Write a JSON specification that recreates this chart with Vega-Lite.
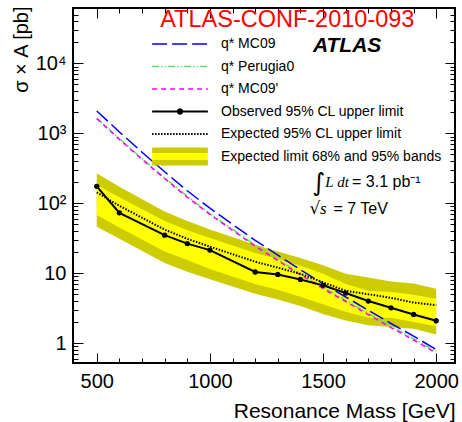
{
  "$schema": "https://vega.github.io/schema/vega-lite/v6.json",
  "width": 382,
  "height": 355,
  "autosize": {"type": "none"},
  "padding": {"left": 73, "top": 8, "right": 7, "bottom": 59},
  "background": "white",
  "config": {
    "font": "Liberation Sans",
    "view": {"stroke": "#000000", "strokeWidth": 2},
    "axis": {"domain": false, "grid": false, "ticks": true, "tickColor": "#000000", "tickWidth": 1, "labelColor": "#000000", "titleColor": "#000000", "labelFont": "Liberation Sans", "titleFont": "Liberation Sans", "titleFontWeight": "normal"}
  },
  "datasets": {
    "limits": [
      {"mass": 500, "obs": 175, "exp": 143, "lo68": 68, "hi68": 182, "lo95": 46, "hi95": 268},
      {"mass": 600, "obs": 73, "exp": 92, "lo68": 45, "hi68": 122, "lo95": 31, "hi95": 172},
      {"mass": 800, "obs": 35, "exp": 42, "lo68": 20.5, "hi68": 56, "lo95": 14, "hi95": 76},
      {"mass": 900, "obs": 26.5, "exp": 31, "lo68": 15.5, "hi68": 41, "lo95": 10.5, "hi95": 56},
      {"mass": 1000, "obs": 21.4, "exp": 24, "lo68": 11.5, "hi68": 32, "lo95": 8.2, "hi95": 42},
      {"mass": 1200, "obs": 10.4, "exp": 14.6, "lo68": 7.0, "hi68": 19.5, "lo95": 5.1, "hi95": 25.5},
      {"mass": 1300, "obs": 9.6, "exp": 12, "lo68": 5.8, "hi68": 16, "lo95": 4.2, "hi95": 20.5},
      {"mass": 1400, "obs": 8.15, "exp": 9.8, "lo68": 4.6, "hi68": 12.8, "lo95": 3.4, "hi95": 16.5},
      {"mass": 1500, "obs": 6.7, "exp": 7.4, "lo68": 3.6, "hi68": 9.8, "lo95": 2.6, "hi95": 13},
      {"mass": 1600, "obs": 5.2, "exp": 5.6, "lo68": 2.8, "hi68": 7.0, "lo95": 2.1, "hi95": 9.8},
      {"mass": 1700, "obs": 4.0, "exp": 5.0, "lo68": 2.3, "hi68": 5.6, "lo95": 1.8, "hi95": 8.7},
      {"mass": 1800, "obs": 3.2, "exp": 4.45, "lo68": 2.3, "hi68": 5.4, "lo95": 1.7, "hi95": 7.6},
      {"mass": 1900, "obs": 2.57, "exp": 3.8, "lo68": 2.0, "hi68": 4.9, "lo95": 1.6, "hi95": 7.1},
      {"mass": 2000, "obs": 2.09, "exp": 3.5, "lo68": 1.75, "hi68": 4.3, "lo95": 1.33, "hi95": 6.0}
    ],
    "signal": [
      {"mass": 500, "series": "q* MC09", "xs": 2090},
      {"mass": 600, "series": "q* MC09", "xs": 1047},
      {"mass": 700, "series": "q* MC09", "xs": 537},
      {"mass": 800, "series": "q* MC09", "xs": 282},
      {"mass": 900, "series": "q* MC09", "xs": 151},
      {"mass": 1000, "series": "q* MC09", "xs": 85},
      {"mass": 1100, "series": "q* MC09", "xs": 50},
      {"mass": 1200, "series": "q* MC09", "xs": 29.5},
      {"mass": 1300, "series": "q* MC09", "xs": 18.2},
      {"mass": 1400, "series": "q* MC09", "xs": 11.2},
      {"mass": 1500, "series": "q* MC09", "xs": 7.08},
      {"mass": 1600, "series": "q* MC09", "xs": 4.57},
      {"mass": 1700, "series": "q* MC09", "xs": 2.95},
      {"mass": 1800, "series": "q* MC09", "xs": 1.91},
      {"mass": 1900, "series": "q* MC09", "xs": 1.26},
      {"mass": 2000, "series": "q* MC09", "xs": 0.81},
      {"mass": 500, "series": "q* Perugia0", "xs": 1660},
      {"mass": 600, "series": "q* Perugia0", "xs": 841},
      {"mass": 700, "series": "q* Perugia0", "xs": 436},
      {"mass": 800, "series": "q* Perugia0", "xs": 231},
      {"mass": 900, "series": "q* Perugia0", "xs": 125.6},
      {"mass": 1000, "series": "q* Perugia0", "xs": 71.3},
      {"mass": 1100, "series": "q* Perugia0", "xs": 42.5},
      {"mass": 1200, "series": "q* Perugia0", "xs": 25.3},
      {"mass": 1300, "series": "q* Perugia0", "xs": 15.7},
      {"mass": 1400, "series": "q* Perugia0", "xs": 9.82},
      {"mass": 1500, "series": "q* Perugia0", "xs": 6.26},
      {"mass": 1600, "series": "q* Perugia0", "xs": 4.09},
      {"mass": 1700, "series": "q* Perugia0", "xs": 2.67},
      {"mass": 1800, "series": "q* Perugia0", "xs": 1.74},
      {"mass": 1900, "series": "q* Perugia0", "xs": 1.16},
      {"mass": 2000, "series": "q* Perugia0", "xs": 0.76},
      {"mass": 500, "series": "q* MC09'", "xs": 1622},
      {"mass": 600, "series": "q* MC09'", "xs": 820},
      {"mass": 700, "series": "q* MC09'", "xs": 425},
      {"mass": 800, "series": "q* MC09'", "xs": 225},
      {"mass": 900, "series": "q* MC09'", "xs": 122},
      {"mass": 1000, "series": "q* MC09'", "xs": 69.2},
      {"mass": 1100, "series": "q* MC09'", "xs": 41.1},
      {"mass": 1200, "series": "q* MC09'", "xs": 24.4},
      {"mass": 1300, "series": "q* MC09'", "xs": 15.2},
      {"mass": 1400, "series": "q* MC09'", "xs": 9.46},
      {"mass": 1500, "series": "q* MC09'", "xs": 6.03},
      {"mass": 1600, "series": "q* MC09'", "xs": 3.93},
      {"mass": 1700, "series": "q* MC09'", "xs": 2.56},
      {"mass": 1800, "series": "q* MC09'", "xs": 1.67},
      {"mass": 1900, "series": "q* MC09'", "xs": 1.11},
      {"mass": 2000, "series": "q* MC09'", "xs": 0.724}
    ]
  },
  "resolve": {"axis": {"x": "independent", "y": "independent"}},
  "layer": [
    {
      "data": {"name": "limits"},
      "mark": {"type": "area", "color": "#cccc00"},
      "encoding": {
        "x": {"field": "mass", "type": "quantitative", "scale": {"type": "linear", "domain": [395, 2083], "nice": false, "zero": false},
          "axis": {"orient": "bottom", "values": [500, 1000, 1500, 2000], "tickSize": -10, "labelFontSize": 20, "labelPadding": 18, "labelBaseline": "top", "labelAlign": "center", "labelFlush": false, "labelOverlap": false, "format": "d", "title": "Resonance Mass [GeV]", "titleFontSize": 21, "titleAlign": "right", "titleBaseline": "alphabetic", "titleAngle": 0, "titleX": 382, "titleY": 54}},
        "y": {"field": "hi95", "type": "quantitative", "scale": {"type": "log", "domain": [0.52, 62000], "nice": false},
          "axis": {"orient": "left", "values": [1, 10, 100, 1000, 10000], "tickSize": -10, "labelFontSize": 20, "labelPadding": 17, "labelAlign": "right", "labelBaseline": "middle", "labelFlush": false, "labelOverlap": false,
            "labelExpr": "datum.value >= 10000 ? '10⁴' : datum.value >= 1000 ? '10³' : datum.value >= 100 ? '10²' : datum.value >= 10 ? '10' : '1'",
            "encode": {"labels": {"update": {"dx": {"signal": "datum.value >= 100 ? 5 : 0"}, "dy": {"signal": "datum.value >= 100 ? 4 : 0"}}}},
            "title": "σ × A [pb]", "titleFontSize": 20, "titleAngle": -90, "titleAlign": "right", "titleBaseline": "alphabetic", "titleX": -46, "titleY": -2}},
        "y2": {"field": "lo95"}
      }
    },
    {
      "data": {"name": "limits"},
      "mark": {"type": "point", "opacity": 0},
      "encoding": {
        "x": {"field": "mass", "type": "quantitative", "scale": {"type": "linear", "domain": [395, 2083], "nice": false, "zero": false},
          "axis": {"orient": "bottom", "values": [600, 700, 800, 900, 1100, 1200, 1300, 1400, 1600, 1700, 1800, 1900], "tickSize": -5, "labels": false, "title": null}},
        "y": {"field": "obs", "type": "quantitative", "scale": {"type": "log", "domain": [0.52, 62000], "nice": false},
          "axis": {"orient": "left", "values": [0.6, 0.7, 0.8, 0.9, 2, 3, 4, 5, 6, 7, 8, 9, 20, 30, 40, 50, 60, 70, 80, 90, 200, 300, 400, 500, 600, 700, 800, 900, 2000, 3000, 4000, 5000, 6000, 7000, 8000, 9000, 20000, 30000, 40000, 50000], "tickSize": -5, "labels": false, "title": null}}
      }
    },
    {
      "data": {"name": "limits"},
      "mark": {"type": "point", "opacity": 0},
      "encoding": {
        "x": {"field": "mass", "type": "quantitative", "scale": {"type": "linear", "domain": [395, 2083], "nice": false, "zero": false},
          "axis": {"orient": "top", "values": [500, 1000, 1500, 2000], "tickSize": -10, "labels": false, "title": null}},
        "y": {"field": "obs", "type": "quantitative", "scale": {"type": "log", "domain": [0.52, 62000], "nice": false},
          "axis": {"orient": "right", "values": [1, 10, 100, 1000, 10000], "tickSize": -10, "labels": false, "title": null}}
      }
    },
    {
      "data": {"name": "limits"},
      "mark": {"type": "point", "opacity": 0},
      "encoding": {
        "x": {"field": "mass", "type": "quantitative", "scale": {"type": "linear", "domain": [395, 2083], "nice": false, "zero": false},
          "axis": {"orient": "top", "values": [600, 700, 800, 900, 1100, 1200, 1300, 1400, 1600, 1700, 1800, 1900], "tickSize": -5, "labels": false, "title": null}},
        "y": {"field": "obs", "type": "quantitative", "scale": {"type": "log", "domain": [0.52, 62000], "nice": false},
          "axis": {"orient": "right", "values": [0.6, 0.7, 0.8, 0.9, 2, 3, 4, 5, 6, 7, 8, 9, 20, 30, 40, 50, 60, 70, 80, 90, 200, 300, 400, 500, 600, 700, 800, 900, 2000, 3000, 4000, 5000, 6000, 7000, 8000, 9000, 20000, 30000, 40000, 50000], "tickSize": -5, "labels": false, "title": null}}
      }
    },
    {
      "data": {"name": "limits"},
      "mark": {"type": "area", "color": "#ffff00"},
      "encoding": {
        "x": {"field": "mass", "type": "quantitative", "scale": {"type": "linear", "domain": [395, 2083], "nice": false, "zero": false}, "axis": null},
        "y": {"field": "hi68", "type": "quantitative", "scale": {"type": "log", "domain": [0.52, 62000], "nice": false}, "axis": null},
        "y2": {"field": "lo68"}
      }
    },
    {
      "data": {"name": "signal"},
      "mark": {"type": "line", "strokeWidth": 1.5},
      "encoding": {
        "x": {"field": "mass", "type": "quantitative", "scale": {"type": "linear", "domain": [395, 2083], "nice": false, "zero": false}, "axis": null},
        "y": {"field": "xs", "type": "quantitative", "scale": {"type": "log", "domain": [0.52, 62000], "nice": false}, "axis": null},
        "strokeDash": {"field": "series", "type": "nominal", "scale": {"domain": ["q* MC09", "q* Perugia0", "q* MC09'"], "range": [[15, 5], [7, 2, 1.5, 2, 1.5, 2], [5, 4]]}, "legend": null},
        "color": {"field": "series", "type": "nominal",
          "scale": {"domain": ["q* MC09", "q* Perugia0", "q* MC09'", "Observed 95% CL upper limit", "Expected 95% CL upper limit", "Expected limit 68% and 95% bands"], "range": ["#0000ff", "#66dd66", "#ff00ff", "#000000", "#000000", "#cccc00"]},
          "legend": {
            "orient": "none", "legendX": 72, "legendY": 29, "title": null, "direction": "vertical", "padding": 0, "offset": 0, "gridAlign": "all",
            "labelFont": "Liberation Sans", "labelFontSize": 14, "labelColor": "#000000", "labelLimit": 400,
            "symbolSize": 324, "symbolOffset": 28, "labelOffset": 34, "rowPadding": 4.5, "symbolType": "M-3.1,0H3.1",
            "encode": {"symbols": {"update": {
              "shape": {"signal": "datum.value === 'Observed 95% CL upper limit' ? 'M-3.1,0H3.1M0.25,0L0.18,0.18L0,0.25L-0.18,0.18L-0.25,0L-0.18,-0.18L0,-0.25L0.18,-0.18Z' : datum.value === 'Expected limit 68% and 95% bands' ? 'M-3.1,-1H3.1V1H-3.1Z' : 'M-3.1,0H3.1'"},
              "fill": {"signal": "datum.value === 'Observed 95% CL upper limit' ? '#000000' : datum.value === 'Expected limit 68% and 95% bands' ? {gradient: 'linear', x1: 0, y1: 0, x2: 0, y2: 1, stops: [{offset: 0, color: '#cccc00'}, {offset: 0.28, color: '#cccc00'}, {offset: 0.28, color: '#ffff00'}, {offset: 0.72, color: '#ffff00'}, {offset: 0.72, color: '#cccc00'}, {offset: 1, color: '#cccc00'}]} : 'transparent'"},
              "stroke": {"signal": "datum.value === 'q* MC09' ? '#0000ff' : datum.value === 'q* Perugia0' ? '#66dd66' : datum.value === \"q* MC09'\" ? '#ff00ff' : datum.value === 'Expected limit 68% and 95% bands' ? 'transparent' : '#000000'"},
              "strokeWidth": {"signal": "datum.value === 'Expected limit 68% and 95% bands' ? 0 : (datum.value === 'Observed 95% CL upper limit' || datum.value === 'Expected 95% CL upper limit') ? 2 : 1.5"},
              "strokeDash": {"signal": "datum.value === 'q* MC09' ? [15, 5] : datum.value === 'q* Perugia0' ? [7, 2, 1.5, 2, 1.5, 2] : datum.value === \"q* MC09'\" ? [5, 4] : datum.value === 'Expected 95% CL upper limit' ? [1.5, 1.5] : [1, 0]"},
              "opacity": {"value": 1}
            }}}
          }
        }
      }
    },
    {
      "data": {"name": "limits"},
      "mark": {"type": "line", "color": "#000000", "strokeWidth": 2, "strokeDash": [1.5, 1.5]},
      "encoding": {
        "x": {"field": "mass", "type": "quantitative", "scale": {"type": "linear", "domain": [395, 2083], "nice": false, "zero": false}, "axis": null},
        "y": {"field": "exp", "type": "quantitative", "scale": {"type": "log", "domain": [0.52, 62000], "nice": false}, "axis": null}
      }
    },
    {
      "data": {"name": "limits"},
      "mark": {"type": "line", "color": "#000000", "strokeWidth": 2, "point": {"filled": true, "size": 28, "color": "#000000", "opacity": 1}},
      "encoding": {
        "x": {"field": "mass", "type": "quantitative", "scale": {"type": "linear", "domain": [395, 2083], "nice": false, "zero": false}, "axis": null},
        "y": {"field": "obs", "type": "quantitative", "scale": {"type": "log", "domain": [0.52, 62000], "nice": false}, "axis": null}
      }
    },
    {
      "data": {"values": [{}]},
      "mark": {"type": "text", "text": "ATLAS-CONF-2010-093", "font": "Liberation Sans", "fontSize": 23.5, "color": "#ff0000", "align": "center", "baseline": "alphabetic"},
      "encoding": {
        "x": {"datum": 1342, "type": "quantitative", "scale": {"type": "linear", "domain": [395, 2083], "nice": false, "zero": false}, "axis": null},
        "y": {"datum": 33200, "type": "quantitative", "scale": {"type": "log", "domain": [0.52, 62000], "nice": false}, "axis": null}
      }
    },
    {
      "data": {"values": [{}]},
      "mark": {"type": "text", "text": "ATLAS", "font": "Liberation Sans", "fontSize": 21, "fontWeight": "bold", "fontStyle": "italic", "color": "#000000", "align": "left", "baseline": "alphabetic"},
      "encoding": {
        "x": {"datum": 1455, "type": "quantitative", "scale": {"type": "linear", "domain": [395, 2083], "nice": false, "zero": false}, "axis": null},
        "y": {"datum": 14560, "type": "quantitative", "scale": {"type": "log", "domain": [0.52, 62000], "nice": false}, "axis": null}
      }
    },
    {
      "data": {"values": [{}]},
      "mark": {"type": "text", "text": "∫", "font": "DejaVu Sans", "fontSize": 25, "color": "#000000", "align": "left", "baseline": "alphabetic"},
      "encoding": {
        "x": {"datum": 1451, "type": "quantitative", "scale": {"type": "linear", "domain": [395, 2083], "nice": false, "zero": false}, "axis": null},
        "y": {"datum": 150, "type": "quantitative", "scale": {"type": "log", "domain": [0.52, 62000], "nice": false}, "axis": null}
      }
    },
    {
      "data": {"values": [{}]},
      "mark": {"type": "text", "text": "L dt", "font": "Liberation Serif", "fontSize": 15, "fontStyle": "italic", "color": "#000000", "align": "left", "baseline": "alphabetic"},
      "encoding": {
        "x": {"datum": 1510, "type": "quantitative", "scale": {"type": "linear", "domain": [395, 2083], "nice": false, "zero": false}, "axis": null},
        "y": {"datum": 170, "type": "quantitative", "scale": {"type": "log", "domain": [0.52, 62000], "nice": false}, "axis": null}
      }
    },
    {
      "data": {"values": [{}]},
      "mark": {"type": "text", "text": "= 3.1 pb⁻¹", "font": "Liberation Sans", "fontSize": 16, "color": "#000000", "align": "left", "baseline": "alphabetic"},
      "encoding": {
        "x": {"datum": 1628, "type": "quantitative", "scale": {"type": "linear", "domain": [395, 2083], "nice": false, "zero": false}, "axis": null},
        "y": {"datum": 170, "type": "quantitative", "scale": {"type": "log", "domain": [0.52, 62000], "nice": false}, "axis": null}
      }
    },
    {
      "data": {"values": [{}]},
      "mark": {"type": "text", "text": "√", "font": "DejaVu Sans", "fontSize": 17, "color": "#000000", "align": "left", "baseline": "alphabetic"},
      "encoding": {
        "x": {"datum": 1440, "type": "quantitative", "scale": {"type": "linear", "domain": [395, 2083], "nice": false, "zero": false}, "axis": null},
        "y": {"datum": 70, "type": "quantitative", "scale": {"type": "log", "domain": [0.52, 62000], "nice": false}, "axis": null}
      }
    },
    {
      "data": {"values": [{}]},
      "mark": {"type": "text", "text": "s", "font": "Liberation Serif", "fontSize": 17, "fontStyle": "italic", "color": "#000000", "align": "left", "baseline": "alphabetic"},
      "encoding": {
        "x": {"datum": 1486, "type": "quantitative", "scale": {"type": "linear", "domain": [395, 2083], "nice": false, "zero": false}, "axis": null},
        "y": {"datum": 70, "type": "quantitative", "scale": {"type": "log", "domain": [0.52, 62000], "nice": false}, "axis": null}
      }
    },
    {
      "data": {"values": [{}]},
      "mark": {"type": "text", "text": "= 7 TeV", "font": "Liberation Sans", "fontSize": 16, "color": "#000000", "align": "left", "baseline": "alphabetic"},
      "encoding": {
        "x": {"datum": 1546, "type": "quantitative", "scale": {"type": "linear", "domain": [395, 2083], "nice": false, "zero": false}, "axis": null},
        "y": {"datum": 70, "type": "quantitative", "scale": {"type": "log", "domain": [0.52, 62000], "nice": false}, "axis": null}
      }
    }
  ]
}
